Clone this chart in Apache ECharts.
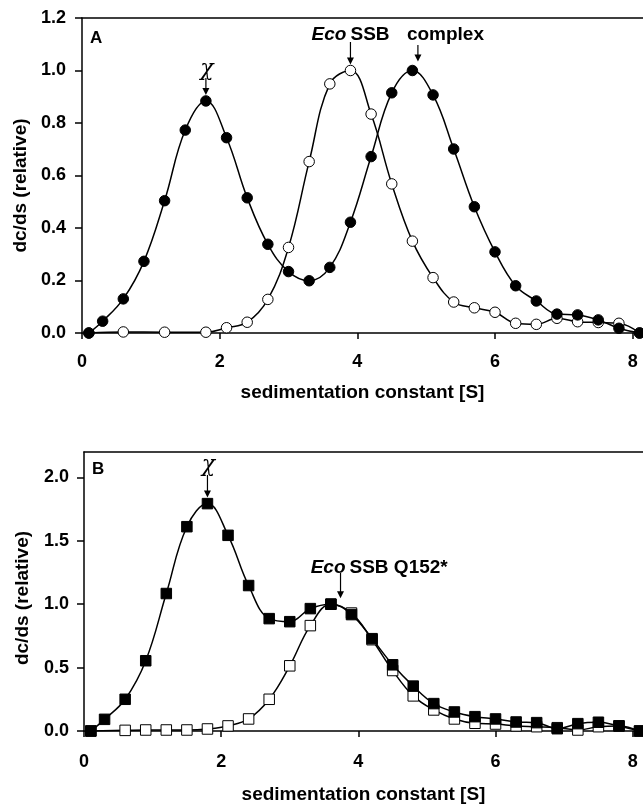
<style>
  html, body { margin: 0; padding: 0; background: #fff; }
</style>
<script src="https://cdn.jsdelivr.net/npm/echarts@6.0.0/dist/echarts.min.js"></script>

<div id="chart" style="width: 643px; height: 805px;"></div>

<script>
  // panel A: chi + EcoSSB (filled), EcoSSB alone (open)
  const aFilledS = [0.1, 0.3, 0.6, 0.9, 1.2, 1.5, 1.8, 2.1, 2.4, 2.7, 3.0, 3.3, 3.6, 3.9, 4.2, 4.5, 4.8, 5.1, 5.4, 5.7, 6.0, 6.3, 6.6, 6.9, 7.2, 7.5, 7.8, 8.1];
  const aFilledV = [0, 0.045, 0.13, 0.273, 0.504, 0.773, 0.884, 0.744, 0.515, 0.338, 0.234, 0.199, 0.25, 0.422, 0.672, 0.915, 1.0, 0.907, 0.701, 0.481, 0.309, 0.18, 0.122, 0.072, 0.069, 0.05, 0.018, 0];
  const aOpenS = [0.1, 0.6, 1.2, 1.8, 2.1, 2.4, 2.7, 3.0, 3.3, 3.6, 3.9, 4.2, 4.5, 4.8, 5.1, 5.4, 5.7, 6.0, 6.3, 6.6, 6.9, 7.2, 7.5, 7.8, 8.1];
  const aOpenV = [0, 0.004, 0.003, 0.003, 0.02, 0.041, 0.128, 0.326, 0.653, 0.949, 1.0, 0.834, 0.568, 0.35, 0.211, 0.118, 0.096, 0.079, 0.037, 0.033, 0.056, 0.043, 0.04, 0.037, 0];

  // panel B: chi + EcoSSB Q152* (filled), EcoSSB Q152* alone (open)
  const bFilledS = [0.1, 0.3, 0.6, 0.9, 1.2, 1.5, 1.8, 2.1, 2.4, 2.7, 3.0, 3.3, 3.6, 3.9, 4.2, 4.5, 4.8, 5.1, 5.4, 5.7, 6.0, 6.3, 6.6, 6.9, 7.2, 7.5, 7.8, 8.1];
  const bFilledV = [0, 0.092, 0.25, 0.554, 1.084, 1.611, 1.793, 1.543, 1.147, 0.886, 0.862, 0.965, 1.0, 0.918, 0.728, 0.522, 0.354, 0.216, 0.15, 0.113, 0.095, 0.071, 0.066, 0.018, 0.058, 0.069, 0.04, 0];
  const bOpenS = [0.1, 0.6, 0.9, 1.2, 1.5, 1.8, 2.1, 2.4, 2.7, 3.0, 3.3, 3.6, 3.9, 4.2, 4.5, 4.8, 5.1, 5.4, 5.7, 6.0, 6.3, 6.6, 6.9, 7.2, 7.5, 7.8, 8.1];
  const bOpenV = [0, 0.005, 0.008, 0.008, 0.008, 0.016, 0.04, 0.095, 0.25, 0.514, 0.831, 1.0, 0.93, 0.72, 0.477, 0.277, 0.166, 0.095, 0.061, 0.055, 0.04, 0.034, 0.026, 0.008, 0.034, 0.04, 0];

  const xTicks = [0, 2, 4, 6, 8];
  const aYTicks = [0, 0.2, 0.4, 0.6, 0.8, 1.0, 1.2];
  const bYTicks = [0, 0.5, 1.0, 1.5, 2.0];

  const zip = (xs, ys) => xs.map((x, i) => [x, ys[i]]);

  const FONT = "'Liberation Sans', Arial, sans-serif";
  const labelStyle = { color: '#000', fontFamily: FONT, fontWeight: 'bold', fontSize: 18 };
  const nameStyle = { color: '#000', fontFamily: FONT, fontWeight: 'bold', fontSize: 19 };
  const lineStyle = { color: '#000', width: 1.5 };

  const bottomAxis = (grid, margin, gap) => ({
    gridIndex: grid, type: 'value', min: 0, max: 8.15,
    axisLine: { show: true, lineStyle },
    axisTick: { show: true, customValues: xTicks, length: 6, lineStyle },
    axisLabel: { customValues: xTicks, margin, ...labelStyle },
    splitLine: { show: false },
    name: 'sedimentation constant [S]', nameLocation: 'middle', nameGap: gap,
    nameTextStyle: nameStyle
  });
  const topAxis = (grid) => ({
    gridIndex: grid, type: 'value', position: 'top', min: 0, max: 8.15,
    axisLine: { show: true, lineStyle },
    axisTick: { show: false }, axisLabel: { show: false }, splitLine: { show: false }
  });
  const leftAxis = (grid, max, ticks, margin, pad) => ({
    gridIndex: grid, type: 'value', min: 0, max,
    axisLine: { show: true, lineStyle },
    axisTick: { show: true, customValues: ticks, length: 7, lineStyle },
    axisLabel: { customValues: ticks, margin, formatter: v => v.toFixed(1), ...labelStyle },
    splitLine: { show: false },
    name: 'dc/ds (relative)', nameLocation: 'middle', nameGap: 52,
    nameTextStyle: { ...nameStyle, padding: [0, pad, 0, 0] }
  });

  const series = (xi, yi, data, symbol, filled) => ({
    type: 'line', xAxisIndex: xi, yAxisIndex: yi, data,
    smooth: 0.4, symbol, symbolSize: 10.5, showSymbol: true,
    lineStyle, z: filled ? 3 : 2,
    itemStyle: filled ? { color: '#000', borderColor: '#000', borderWidth: 1 }
                      : { color: '#fff', borderColor: '#000', borderWidth: 1 },
    emphasis: { disabled: true }, animation: false
  });

  const chart = echarts.init(document.getElementById('chart'), null, { renderer: 'canvas' });
  chart.setOption({
    animation: false,
    backgroundColor: '#fff',
    grid: [
      { left: 82, top: 18, right: 0, height: 315 },
      { left: 84, top: 452, right: 0, height: 279 }
    ],
    xAxis: [bottomAxis(0, 20, 50), topAxis(0), bottomAxis(1, 22, 54), topAxis(1)],
    yAxis: [leftAxis(0, 1.2, aYTicks, 16, 20), leftAxis(1, 2.2, bYTicks, 15, 13)],
    series: [
      series(0, 0, zip(aOpenS, aOpenV), 'circle', false),
      series(0, 0, zip(aFilledS, aFilledV), 'circle', true),
      series(2, 1, zip(bOpenS, bOpenV), 'rect', false),
      series(2, 1, zip(bFilledS, bFilledV), 'rect', true)
    ]
  });

  // annotation arrows pointing at the peaks
  const arrow = (x, y1, y2) => [
    { type: 'line', shape: { x1: x, y1, x2: x, y2: y2 - 5 }, style: { stroke: '#000', lineWidth: 1.2 }, z: 10 },
    { type: 'polygon', shape: { points: [[x - 3.5, y2 - 7], [x + 3.5, y2 - 7], [x, y2]] }, style: { fill: '#000' }, z: 10 }
  ];
  const txt = (x, y, text, opts = {}) => ({
    type: 'text', x, y, z: 10,
    style: { text, fill: '#000', font: opts.font || `bold 19px ${FONT}`, align: opts.align || 'left', verticalAlign: 'middle' }
  });
  const px = (axes, s, v) => chart.convertToPixel(axes, [s, v]);
  const A = { xAxisIndex: 0, yAxisIndex: 0 };
  const B = { xAxisIndex: 2, yAxisIndex: 1 };
  const CHI = `italic 22px 'DejaVu Serif', 'Liberation Serif', serif`;

  const g = [];
  g.push(txt(90, 38, 'A', { font: `bold 17px ${FONT}` }));
  g.push(txt(92, 469, 'B', { font: `bold 17px ${FONT}` }));

  let p = px(A, 1.8, 0.884);
  g.push(txt(p[0] + 1, 69, 'χ', { align: 'center', font: CHI }));
  g.push(...arrow(p[0], 78, p[1] - 6));

  p = px(A, 3.9, 1.0);
  g.push(txt(p[0] - 4, 35, 'Eco', { align: 'right', font: `italic bold 19px ${FONT}` }));
  g.push(txt(p[0], 35, 'SSB'));
  g.push(...arrow(p[0], 42, p[1] - 6));

  p = px(A, 4.88, 1.0);
  g.push(txt(p[0] - 11, 35, 'complex'));
  g.push(...arrow(p[0], 45, p[1] - 9));

  p = px(B, 1.8, 1.793);
  g.push(txt(p[0] + 1, 465, 'χ', { align: 'center', font: CHI }));
  g.push(...arrow(p[0], 475, p[1] - 6));

  p = px(B, 3.74, 1.0);
  g.push(txt(p[0] + 5, 568, 'Eco', { align: 'right', font: `italic bold 19px ${FONT}` }));
  g.push(txt(p[0] + 9, 568, 'SSB Q152*'));
  g.push(...arrow(p[0], 573, p[1] - 6));

  chart.setOption({ graphic: g });
</script>
